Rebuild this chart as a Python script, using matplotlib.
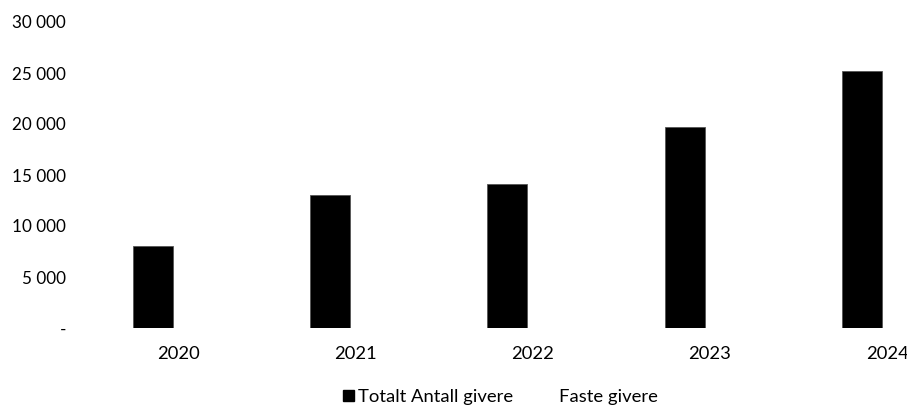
import numpy as np
import matplotlib.pyplot as plt
from matplotlib.ticker import FuncFormatter
from matplotlib.patches import Patch

years = ['2020', '2021', '2022', '2023', '2024']
totalt_antall = [8000, 13000, 14150, 19700, 25200]
faste_givere = [0, 0, 0, 0, 0]

plt.rcParams['font.family'] = ['Lato', 'DejaVu Sans']

fig = plt.figure(figsize=(9.07, 4.08), dpi=100)
# akse til venstre 84 px, høyre kant kuttet ved bildekanten
ax = fig.add_axes([84 / 907, 80 / 408, 823 / 907, 306 / 408])

x = np.arange(len(years))
w = 0.225
ax.bar(x - w / 2, totalt_antall, w, color='black', edgecolor='#555555', linewidth=0.6)
ax.bar(x + w / 2, faste_givere, w, color='white')

ax.set_xlim(-0.5, (907 - 172.7) / 177.3)
ax.set_ylim(0, 30000)
ax.set_yticks(np.arange(0, 30001, 5000))


def fmt(v, pos):
    if v == 0:
        return '-'
    return f'{v:,.0f}'.replace(',', ' ')


ax.yaxis.set_major_formatter(FuncFormatter(fmt))
ax.set_xticks(x + 0.03)
ax.set_xticklabels(years)
ax.tick_params(axis='both', length=0, colors='black')
ax.tick_params(axis='y', pad=13, labelsize=12.3)
ax.tick_params(axis='x', pad=13, labelsize=13.2)
for s in ax.spines.values():
    s.set_visible(False)

handles = [Patch(facecolor='black', edgecolor='black'), Patch(facecolor='white', edgecolor='white')]
fig.legend(handles, ['Totalt Antall givere', 'Faste givere'], loc='center',
           bbox_to_anchor=(500 / 907, 1 - 397 / 408), ncol=2, frameon=False,
           fontsize=13.3, handlelength=0.6, handleheight=0.6, handletextpad=0.25,
           columnspacing=1.6)

fig.savefig('out.png', dpi=100)
